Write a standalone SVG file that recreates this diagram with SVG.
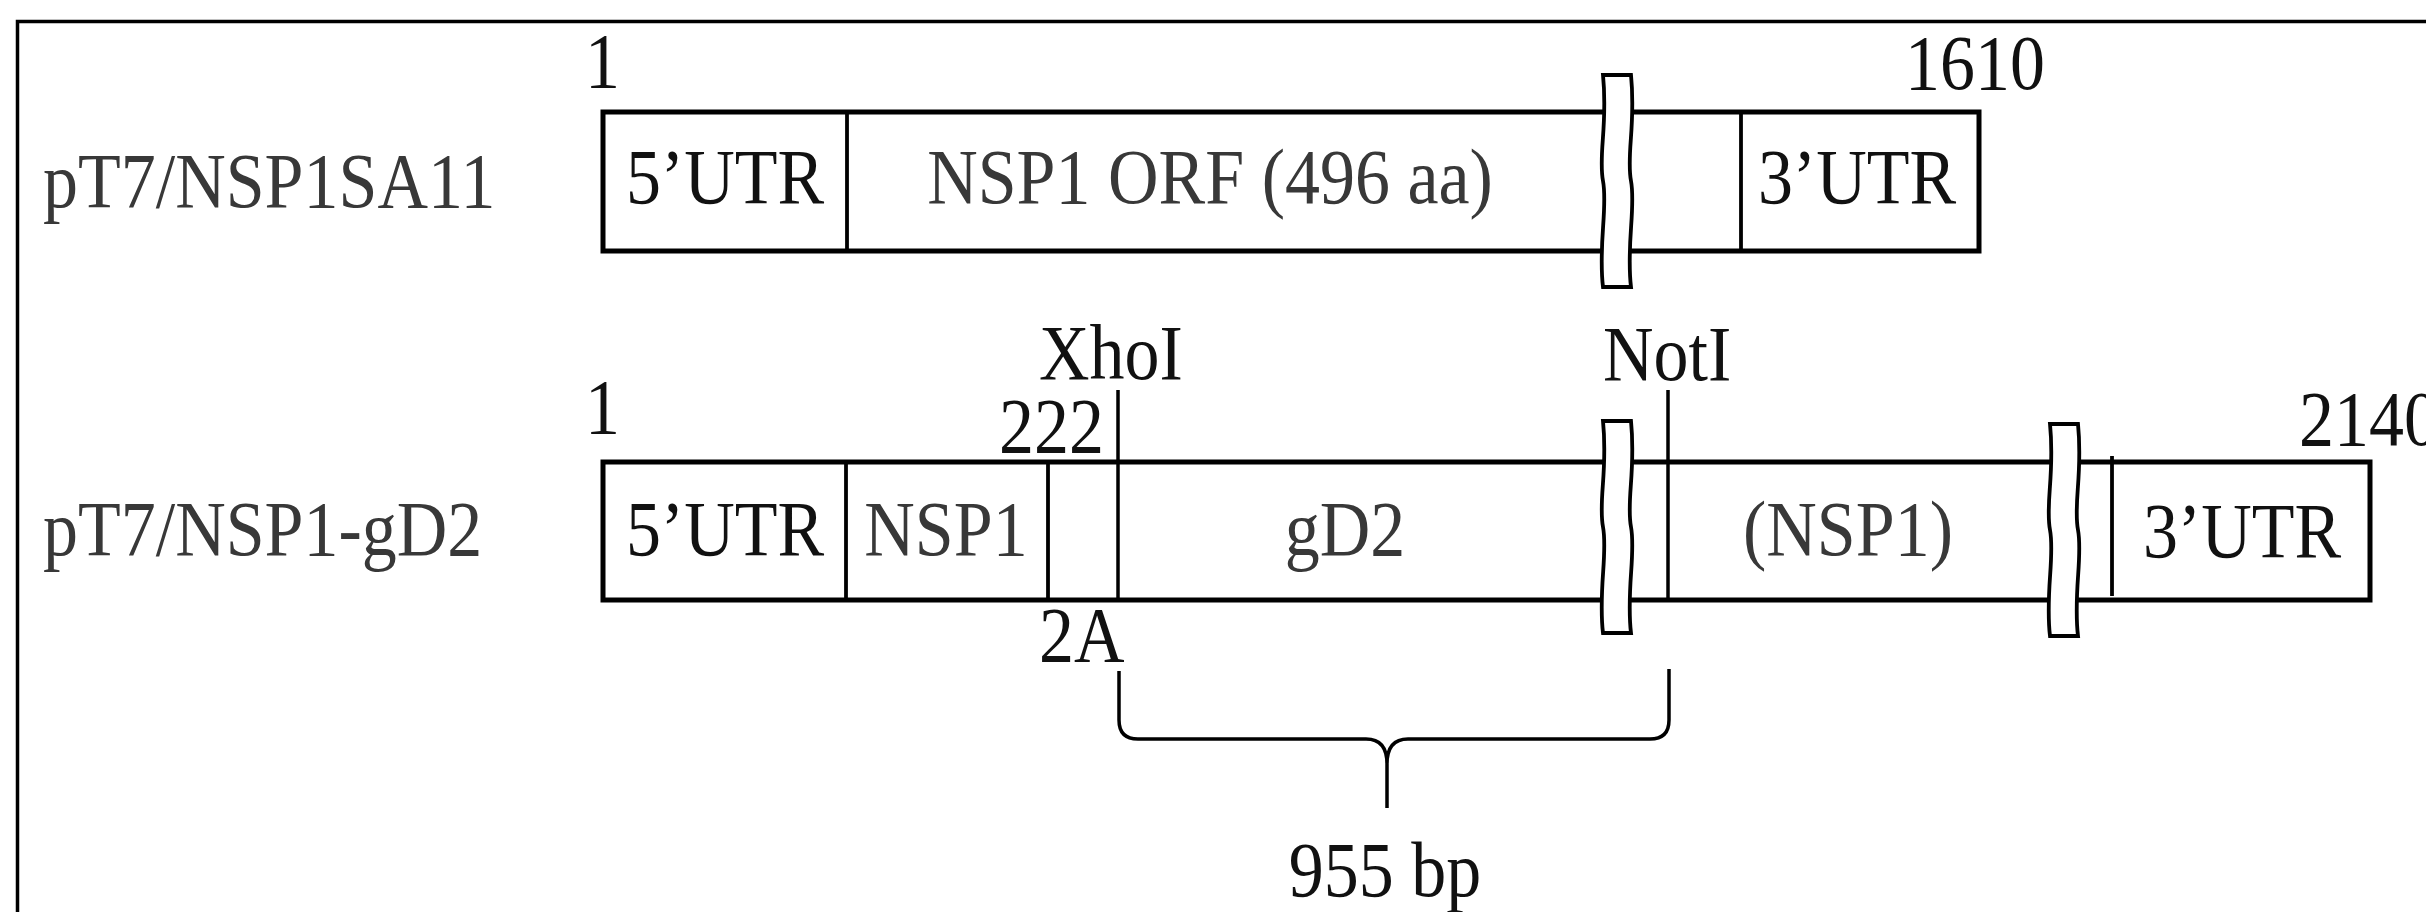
<svg xmlns="http://www.w3.org/2000/svg" width="2426" height="912" viewBox="0 0 2426 912">
<style>
.t{font-family:"Liberation Serif","Times New Roman",serif;font-size:70px;fill:#111}
.g{fill:#383838}
.m{text-anchor:middle}
.box{fill:#fff;stroke:#000;stroke-width:5}
.div{stroke:#000;stroke-width:3.8;fill:none}
.brk{fill:#fff;stroke:#000;stroke-width:3.8;stroke-linejoin:miter}
.con{stroke:#000;stroke-width:3.5;fill:none}
</style>
<defs>
<path id="brk" d="M0,0 H28 C33,50 23,80 28,106 C33,132 23,170 28,212 H0 C-5,170 5,132 0,106 C-5,80 5,50 0,0 Z"/>
</defs>
<rect width="2426" height="912" fill="#fff"/>
<g id="frame"><path d="M17.5,912 V21.5 H2426" fill="none" stroke="#000" stroke-width="3.5"/></g>

<g id="label1"><text class="t g" transform="translate(43 207) scale(1 1.12)">pT7/NSP1SA11</text></g>
<g id="label2"><text class="t g" transform="translate(43 555) scale(1 1.12)">pT7/NSP1-gD2</text></g>

<g id="construct1">
<rect class="box" x="603" y="112" width="1376" height="139"/>
<line class="div" x1="847" y1="112" x2="847" y2="251"/>
<line class="div" x1="1741" y1="112" x2="1741" y2="251"/>
<use href="#brk" class="brk" transform="translate(1603 75)"/>
<text class="t" transform="translate(585 87) scale(1 1.12)">1</text>
<text class="t" transform="translate(1905 89) scale(1 1.12)">1610</text>
<text class="t m" transform="translate(725 203) scale(1 1.12)">5’UTR</text>
<text class="t m g" transform="translate(1210 203) scale(1 1.12)">NSP1 ORF (496 aa)</text>
<text class="t m" transform="translate(1857 203) scale(1 1.12)">3’UTR</text>
</g>

<g id="construct2">
<rect class="box" x="603" y="462" width="1767" height="138"/>
<line class="div" x1="846" y1="462" x2="846" y2="600"/>
<line class="div" x1="1048" y1="462" x2="1048" y2="600"/>
<line class="div" x1="2112" y1="456" x2="2112" y2="596"/>
<use href="#brk" class="brk" transform="translate(1603 421)"/>
<use href="#brk" class="brk" transform="translate(2050 424)"/>
<text class="t" transform="translate(585 433) scale(1 1.12)">1</text>
<text class="t" transform="translate(999 452) scale(1 1.12)">222</text>
<text class="t" transform="translate(2299 445) scale(1 1.12)">2140</text>
<text class="t m" transform="translate(725 555) scale(1 1.12)">5’UTR</text>
<text class="t m g" transform="translate(946 555) scale(1 1.12)">NSP1</text>
<text class="t m g" transform="translate(1345 555) scale(1 1.12)">gD2</text>
<text class="t m g" transform="translate(1848 555) scale(1 1.12)">(NSP1)</text>
<text class="t m" transform="translate(2242 557) scale(1 1.12)">3’UTR</text>
<text class="t" transform="translate(1039 661) scale(1 1.12)">2A</text>
</g>

<g id="sites">
<text class="t" transform="translate(1039 379) scale(1 1.12)">XhoI</text>
<text class="t" transform="translate(1603 380) scale(1 1.12)">NotI</text>
</g>

<g id="connectors">
<line class="con" x1="1118" y1="390" x2="1118" y2="600"/>
<line class="con" x1="1668" y1="390" x2="1668" y2="600"/>
<path class="con" d="M1119,671 V720 Q1119,739 1138,739 H1366 Q1387,739 1387,764 V808 M1387,764 Q1387,739 1408,739 H1650 Q1669,739 1669,720 V669" stroke-width="4"/>
</g>

<g id="size"><text class="t m" transform="translate(1385 896) scale(1 1.12)">955 bp</text></g>
</svg>
